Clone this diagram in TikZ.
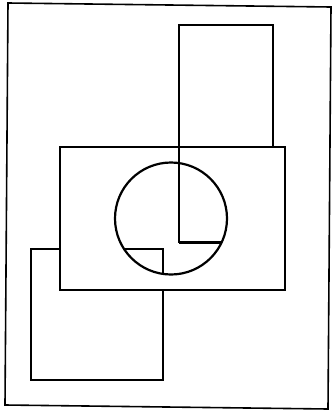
\documentclass[tikz,border=0pt]{standalone}
\begin{document}
\begin{tikzpicture}[x=1pt,y=-1pt,line join=miter]
        \useasboundingbox (0,0) rectangle (333,413);
        % 绘制外框
        \draw[line width=1.6pt] (8,3) -- (331,7) -- (328,409) -- (5,405) -- cycle;

        % 绘制中间的矩形
        \draw[line width=2.6pt] (60,147) rectangle (285,290);

        % 绘制圆
        \draw[line width=2.2pt] (171,218.5) circle (56);

        % 绘制右上的矩形
        \draw[line width=2.6pt] (179,242.5) -- (179,25) -- (273,25) -- (273,147);

        % 绘制左下的矩形
        \draw[line width=2.6pt] (60,249) -- (31,249) -- (31,380) -- (163,380) -- (163,290);

        % 圆内可见的边
        \begin{scope}
            \clip (171,218.5) circle (56);
            \draw[line width=2.6pt] (179,242.5) -- (240,242.5);
            \draw[line width=2.6pt] (100,249) -- (163,249) -- (163,290);
        \end{scope}
    \end{tikzpicture}
\end{document}
